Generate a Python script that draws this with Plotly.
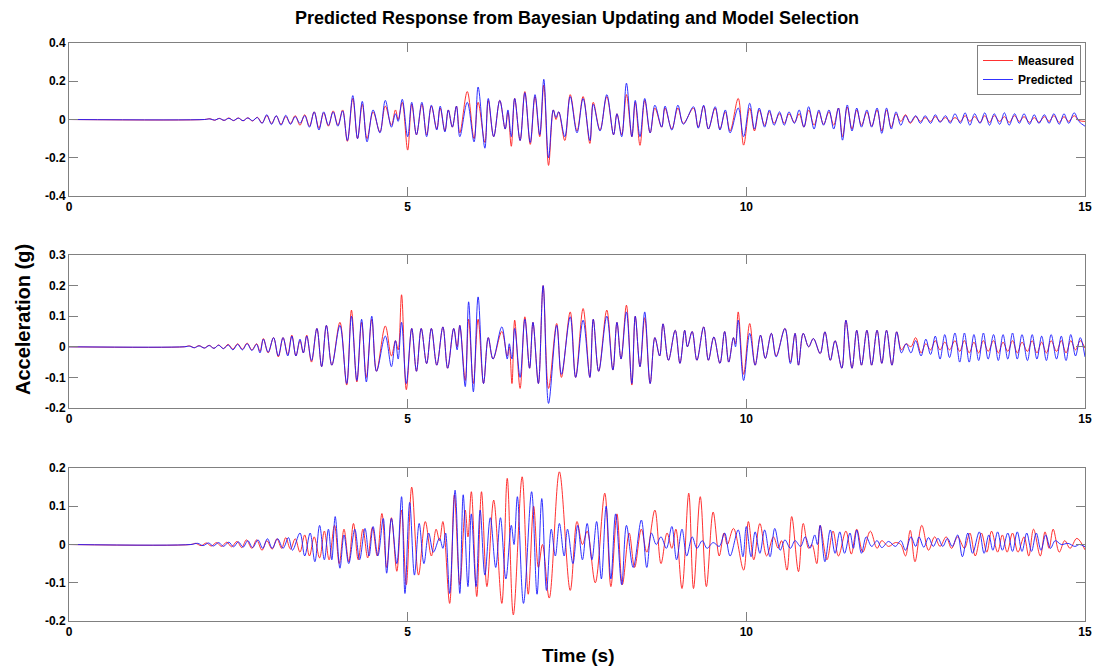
import plotly.graph_objects as go

# ---------------------------------------------------------------------------
# Acceleration records (g) at the turning points of each trace, time in s.
# ---------------------------------------------------------------------------

# Panel 1 – shared time base
top_time = [
    0.00, 2.00, 2.08, 2.15, 2.22, 2.29, 2.36, 2.43, 2.50, 2.57,
    2.64, 2.71, 2.78, 2.85, 2.92, 2.99, 3.06, 3.13, 3.20, 3.27,
    3.34, 3.41, 3.48, 3.55, 3.62, 3.69, 3.76, 3.83, 3.90, 3.97,
    4.04, 4.11, 4.19, 4.26, 4.33, 4.40, 4.49, 4.59, 4.67, 4.76,
    4.82, 4.86, 4.92, 5.00, 5.06, 5.13, 5.21, 5.28, 5.35, 5.43,
    5.48, 5.55, 5.60, 5.66, 5.72, 5.77, 5.88, 5.98, 6.04, 6.14,
    6.19, 6.27, 6.36, 6.44, 6.48, 6.53, 6.58, 6.66, 6.73, 6.81,
    6.88, 6.95, 7.01, 7.08, 7.15, 7.19, 7.23, 7.32, 7.40, 7.50,
    7.59, 7.69, 7.74, 7.84, 7.94, 8.04, 8.09, 8.16, 8.23, 8.31,
    8.36, 8.43, 8.50, 8.58, 8.65, 8.75, 8.80, 8.90, 8.99, 9.07,
    9.22, 9.29, 9.37, 9.44, 9.54, 9.61, 9.69, 9.76, 9.88, 9.96,
    10.05, 10.12, 10.19, 10.27, 10.34, 10.41, 10.49, 10.56, 10.63, 10.71,
    10.78, 10.85, 10.92, 11.00, 11.07, 11.14, 11.22, 11.29, 11.36, 11.42,
    11.49, 11.56, 11.63, 11.70, 11.78, 11.85, 11.93, 12.00, 12.07, 12.14,
    12.21, 12.28, 12.35, 12.42, 12.50, 12.57, 12.64, 12.72, 12.79, 12.86,
    12.94, 13.01, 13.08, 13.16, 13.23, 13.30, 13.37, 13.45, 13.52, 13.59,
    13.66, 13.74, 13.81, 13.88, 13.96, 14.03, 14.10, 14.18, 14.25, 14.32,
    14.40, 14.47, 14.54, 14.62, 14.69, 14.76, 14.84, 14.91, 15.00,
]
top_measured = [
    0, 0, .004, -.004, .006, -.005, .008, -.006, .008, -.007,
    .009, -.008, .012, -.018, .020, -.020, .018, -.025, .015, -.020,
    .020, -.030, .025, -.035, .040, -.045, .035, -.035, .045, -.030,
    .050, -.114, .110, -.100, .080, -.100, .040, -.065, .070, -.030,
    .050, .000, .090, -.160, .080, -.080, .080, -.080, .070, -.050,
    .060, -.060, .050, -.040, .070, -.070, .146, -.100, .090, -.120,
    .100, -.090, .100, -.050, .040, -.140, .110, -.110, .146, -.130,
    .120, -.090, .180, -.240, .050, .000, .040, -.110, .130, -.060,
    .120, -.125, .090, -.055, .120, -.080, .030, -.080, .130, -.090,
    .090, -.135, .100, -.070, .060, -.040, .060, -.050, .060, -.020,
    .060, -.040, .070, -.050, .060, -.050, .040, -.060, .110, -.134,
    .060, -.060, .050, -.030, .040, -.020, .030, -.020, .030, -.015,
    .030, -.040, .050, -.030, .040, -.025, .040, -.030, .060, -.090,
    .065, -.050, .050, -.030, .040, -.035, .050, -.060, .050, -.040,
    .030, -.010, .025, -.020, .015, -.010, .010, -.010, .015, -.010,
    .010, -.010, .010, -.010, .020, -.010, .015, -.015, .020, -.015,
    .020, -.010, .015, -.015, .020, -.010, .015, -.015, .010, -.015,
    .015, -.010, .020, -.015, .015, -.010, .020, -.005, -.010,
]
top_predicted = [
    0, 0, .003, -.003, .005, -.004, .006, -.005, .007, -.006,
    .008, -.006, .010, -.020, .025, -.025, .020, -.030, .022, -.025,
    .015, -.020, .020, -.040, .040, -.055, .040, -.030, .040, -.035,
    .045, -.110, .125, -.100, .095, -.117, .050, -.070, .100, -.040,
    .030, -.010, .106, -.090, .090, -.080, .090, -.090, .075, -.055,
    .070, -.065, .050, -.040, .070, -.090, .090, -.117, .170, -.150,
    .110, -.090, .100, -.050, .050, -.090, .110, -.110, .140, -.120,
    .130, -.080, .210, -.200, .050, .010, .040, -.090, .120, -.070,
    .110, -.110, .080, -.060, .130, -.080, .030, -.090, .190, -.090,
    .100, -.090, .110, -.070, .075, -.040, .070, -.055, .075, -.025,
    .067, -.045, .075, -.050, .067, -.055, .050, -.070, .060, -.090,
    .085, -.050, .060, -.040, .050, -.030, .040, -.030, .040, -.020,
    .050, -.040, .067, -.050, .050, -.030, .050, -.050, .060, -.108,
    .076, -.060, .060, -.040, .050, -.040, .060, -.073, .060, -.050,
    .040, -.030, .020, -.015, .020, -.020, .020, -.020, .025, -.015,
    .020, -.020, .030, -.020, .035, -.030, .030, -.020, .035, -.030,
    .030, -.025, .035, -.030, .030, -.020, .030, -.025, .025, -.020,
    .025, -.020, .030, -.025, .030, -.020, .035, -.010, -.035,
]

# Panel 2 – shared time base
mid_time = [
    0.00, 1.70, 1.78, 1.85, 1.92, 2.00, 2.07, 2.14, 2.21, 2.28,
    2.35, 2.42, 2.49, 2.56, 2.63, 2.70, 2.77, 2.82, 2.87, 2.94,
    3.02, 3.09, 3.16, 3.23, 3.29, 3.35, 3.41, 3.46, 3.51, 3.58,
    3.66, 3.73, 3.80, 3.88, 4.00, 4.10, 4.17, 4.25, 4.32, 4.39,
    4.47, 4.54, 4.67, 4.76, 4.82, 4.86, 4.91, 4.98, 5.06, 5.13,
    5.20, 5.28, 5.35, 5.43, 5.52, 5.59, 5.68, 5.73, 5.77, 5.85,
    5.90, 5.97, 6.04, 6.12, 6.19, 6.26, 6.39, 6.47, 6.50, 6.54,
    6.58, 6.66, 6.73, 6.80, 6.85, 6.93, 7.00, 7.08, 7.20, 7.27,
    7.40, 7.48, 7.59, 7.69, 7.74, 7.82, 7.94, 8.03, 8.09, 8.15,
    8.23, 8.31, 8.36, 8.43, 8.50, 8.58, 8.65, 8.72, 8.77, 8.85,
    8.95, 9.02, 9.09, 9.13, 9.20, 9.27, 9.37, 9.44, 9.52, 9.61,
    9.68, 9.74, 9.81, 9.84, 9.88, 9.96, 10.05, 10.13, 10.21, 10.28,
    10.37, 10.44, 10.57, 10.65, 10.72, 10.77, 10.84, 10.92, 10.99, 11.09,
    11.16, 11.24, 11.31, 11.41, 11.47, 11.56, 11.63, 11.70, 11.78, 11.85,
    11.93, 12.00, 12.07, 12.15, 12.22, 12.29, 12.36, 12.43, 12.50, 12.58,
    12.65, 12.72, 12.79, 12.86, 12.93, 13.00, 13.08, 13.15, 13.22, 13.29,
    13.36, 13.43, 13.50, 13.57, 13.65, 13.72, 13.79, 13.86, 13.93, 14.00,
    14.07, 14.15, 14.22, 14.29, 14.36, 14.43, 14.50, 14.58, 14.65, 14.72,
    14.79, 14.86, 14.93, 15.00,
]
mid_measured = [
    0, 0, .003, -.003, .004, -.004, .005, -.005, .006, -.006,
    .008, -.008, .010, -.008, .012, -.010, .010, -.015, .027, -.020,
    .030, -.033, .030, -.025, .038, -.030, .020, -.020, .038, -.050,
    .060, -.065, .070, -.060, .080, -.125, .120, -.115, .080, -.100,
    .090, -.080, .068, -.030, .020, -.010, .170, -.140, .060, -.080,
    .060, -.055, .060, -.060, .065, -.070, .060, .000, .070, -.110,
    .090, -.120, .090, -.120, .030, -.040, .050, -.030, .000, -.120,
    .087, -.136, .098, -.070, .080, -.120, .200, -.136, .076, -.100,
    .114, -.100, .125, -.100, .090, -.080, .120, -.076, .080, -.040,
    .136, -.125, .100, -.065, .095, -.120, .030, -.030, .075, -.044,
    .054, -.054, .054, .000, .050, -.044, .065, -.044, .032, -.054,
    .050, -.050, .030, .010, .114, -.090, .076, -.060, .038, -.038,
    .044, -.030, .060, -.050, .044, -.060, .044, .000, .027, -.022,
    .049, -.044, .020, -.070, .087, -.070, .054, -.060, .054, -.060,
    .054, -.054, .054, -.060, .049, -.010, .010, .000, .030, -.020,
    .010, -.010, .020, -.010, .015, -.010, .020, -.015, .020, -.020,
    .015, -.020, .020, -.015, .020, -.020, .015, -.015, .020, -.020,
    .015, -.015, .020, -.020, .015, -.020, .020, -.015, .020, -.020,
    .020, -.010, .020, -.005,
]
mid_predicted = [
    0, 0, .002, -.003, .003, -.004, .004, -.005, .005, -.006,
    .006, -.010, .008, -.010, .010, -.012, .008, -.020, .025, -.018,
    .030, -.030, .030, -.030, .035, -.030, .025, -.020, .035, -.045,
    .060, -.065, .070, -.060, .070, -.120, .100, -.110, .090, -.115,
    .100, -.080, .035, -.065, .020, -.040, .080, -.120, .060, -.080,
    .060, -.055, .060, -.060, .065, -.070, .060, -.010, .070, -.130,
    .147, -.147, .163, -.120, .030, -.040, .065, -.040, .010, -.040,
    .060, -.100, .090, -.070, .080, -.120, .200, -.185, .070, -.090,
    .098, -.100, .087, -.100, .090, -.080, .100, -.076, .080, -.040,
    .114, -.120, .100, -.065, .114, -.120, .030, -.030, .075, -.044,
    .054, -.054, .054, .000, .050, -.044, .065, -.044, .032, -.054,
    .050, -.050, .030, .000, .087, -.110, .044, -.060, .038, -.038,
    .044, -.033, .060, -.055, .044, -.060, .044, .000, .027, -.022,
    .049, -.044, .020, -.070, .087, -.070, .054, -.060, .054, -.060,
    .054, -.054, .054, -.060, .049, -.020, .010, -.020, .020, -.030,
    .025, -.025, .035, -.040, .040, -.035, .045, -.050, .045, -.050,
    .040, -.045, .045, -.040, .040, -.045, .040, -.040, .045, -.040,
    .040, -.045, .040, -.040, .035, -.045, .040, -.040, .035, -.045,
    .040, -.030, .030, -.033,
]

# Panel 3 – measured and predicted drift out of phase, so each has its own time base
bot_measured_time = [
    0.00, 1.80, 1.87, 1.95, 2.03, 2.10, 2.18, 2.25, 2.33, 2.40,
    2.48, 2.55, 2.62, 2.70, 2.77, 2.85, 2.92, 3.00, 3.07, 3.14,
    3.20, 3.27, 3.34, 3.41, 3.48, 3.55, 3.62, 3.70, 3.77, 3.84,
    3.92, 3.99, 4.06, 4.13, 4.20, 4.27, 4.34, 4.41, 4.48, 4.55,
    4.62, 4.69, 4.76, 4.84, 4.91, 4.98, 5.06, 5.16, 5.26, 5.35,
    5.42, 5.47, 5.52, 5.62, 5.69, 5.77, 5.85, 5.89, 5.94, 6.02,
    6.09, 6.17, 6.27, 6.39, 6.47, 6.56, 6.69, 6.78, 6.86, 6.93,
    6.99, 7.09, 7.24, 7.40, 7.50, 7.58, 7.65, 7.77, 7.91, 8.00,
    8.09, 8.17, 8.27, 8.35, 8.45, 8.53, 8.65, 8.74, 8.83, 8.90,
    8.96, 9.05, 9.15, 9.22, 9.32, 9.41, 9.51, 9.60, 9.67, 9.72,
    9.81, 9.96, 10.03, 10.11, 10.20, 10.30, 10.40, 10.47, 10.52, 10.60,
    10.67, 10.77, 10.84, 10.92, 10.97, 11.04, 11.09, 11.19, 11.28, 11.36,
    11.47, 11.55, 11.63, 11.72, 11.83, 11.93, 12.00, 12.10, 12.20, 12.28,
    12.35, 12.42, 12.49, 12.59, 12.69, 12.78, 12.86, 12.95, 13.03, 13.12,
    13.22, 13.30, 13.38, 13.47, 13.55, 13.62, 13.71, 13.78, 13.85, 13.93,
    14.01, 14.10, 14.17, 14.24, 14.34, 14.41, 14.47, 14.53, 14.62, 14.70,
    14.78, 14.88, 15.00,
]
bot_measured = [
    0, 0, .003, -.003, .004, -.004, .005, -.005, .006, -.006,
    .008, -.008, .012, -.010, .012, -.015, .010, -.012, .015, -.010,
    .018, -.012, .015, -.020, .025, -.030, .020, -.035, .035, -.040,
    .050, -.050, .040, -.045, .055, -.040, .040, -.035, .045, -.030,
    .081, -.060, .070, -.070, .090, -.105, .150, -.080, .060, -.030,
    .040, .010, .060, -.154, .130, -.105, .090, .020, .138, -.136,
    .138, -.110, .116, -.154, .173, -.184, .177, -.130, .100, -.060,
    .000, -.140, .190, -.120, .060, .000, .035, -.100, .134, -.110,
    .080, -.105, .030, -.060, .040, -.020, .090, -.050, .030, -.010,
    .040, -.115, .134, -.115, .125, -.110, .085, -.030, .030, .000,
    .042, -.067, .060, -.040, .055, -.030, .020, -.010, .010, -.067,
    .073, -.071, .055, -.010, .000, -.050, .050, -.040, .035, -.030,
    .035, -.025, .040, -.020, .035, -.010, .010, -.005, .005, .000,
    -.030, .037, -.045, .050, -.015, .020, -.005, .020, -.010, .020,
    -.010, .030, -.030, .030, -.020, .035, -.020, .025, -.020, .030,
    -.020, .020, -.030, .040, -.030, .033, -.010, .040, -.020, .010,
    -.010, .016, -.014,
]
bot_predicted_time = [
    0.00, 1.80, 1.90, 1.98, 2.06, 2.13, 2.21, 2.28, 2.36, 2.43,
    2.50, 2.57, 2.64, 2.71, 2.79, 2.86, 2.93, 3.00, 3.08, 3.16,
    3.24, 3.30, 3.41, 3.48, 3.56, 3.63, 3.70, 3.77, 3.83, 3.88,
    3.93, 4.00, 4.06, 4.13, 4.22, 4.29, 4.37, 4.43, 4.49, 4.56,
    4.64, 4.69, 4.76, 4.84, 4.91, 4.96, 5.03, 5.10, 5.17, 5.24,
    5.31, 5.38, 5.47, 5.52, 5.56, 5.62, 5.70, 5.77, 5.82, 5.89,
    5.94, 6.01, 6.07, 6.14, 6.22, 6.30, 6.37, 6.45, 6.53, 6.57,
    6.62, 6.71, 6.83, 6.91, 6.98, 7.05, 7.12, 7.18, 7.24, 7.31,
    7.36, 7.44, 7.51, 7.58, 7.65, 7.72, 7.79, 7.86, 7.93, 8.00,
    8.07, 8.16, 8.23, 8.33, 8.45, 8.53, 8.60, 8.67, 8.74, 8.82,
    8.90, 8.97, 9.05, 9.12, 9.20, 9.27, 9.35, 9.42, 9.51, 9.60,
    9.68, 9.76, 9.88, 9.95, 10.00, 10.07, 10.13, 10.20, 10.27, 10.35,
    10.42, 10.50, 10.57, 10.65, 10.72, 10.80, 10.87, 10.94, 11.01, 11.05,
    11.09, 11.16, 11.24, 11.31, 11.38, 11.45, 11.53, 11.58, 11.63, 11.70,
    11.77, 11.85, 11.93, 12.00, 12.10, 12.20, 12.28, 12.35, 12.43, 12.50,
    12.55, 12.62, 12.69, 12.76, 12.83, 12.90, 12.97, 13.04, 13.12, 13.19,
    13.27, 13.34, 13.44, 13.51, 13.58, 13.64, 13.71, 13.78, 13.86, 13.93,
    14.00, 14.07, 14.14, 14.21, 14.28, 14.35, 14.42, 14.49, 14.56, 14.65,
    14.75, 14.85, 14.92, 15.00,
]
bot_predicted = [
    0, 0, .003, -.003, .004, -.004, .005, -.005, .006, -.006,
    .007, -.007, .010, -.008, .012, -.010, .015, -.010, .015, -.010,
    .018, -.015, .030, -.030, .030, -.045, .050, -.040, .040, -.040,
    .073, -.062, .025, -.050, .040, -.040, .042, -.030, .047, -.030,
    .068, -.075, .068, -.050, .125, -.128, .110, -.080, .055, -.050,
    .030, -.020, .016, -.010, .030, -.128, .142, -.128, .130, -.110,
    .080, -.110, .090, -.080, .070, -.060, .070, -.090, .050, .000,
    .125, -.154, .138, -.130, .120, -.120, .040, -.030, .055, -.030,
    .040, -.050, .050, -.040, .055, -.040, .060, -.090, .100, -.090,
    .080, -.105, .050, -.060, .064, -.060, .030, .000, .020, -.010,
    .047, -.040, .040, -.030, .020, -.010, .010, -.010, .005, -.005,
    .030, -.030, .038, -.032, .047, -.032, .033, -.023, .038, -.032,
    .042, -.015, .012, -.010, .010, -.005, .020, -.010, .025, .000,
    .050, -.045, .038, -.023, .033, -.023, .030, -.010, .038, -.023,
    .020, -.005, .010, -.008, .008, -.005, .010, -.015, .020, -.005,
    .020, -.007, .018, -.005, .016, -.005, .016, -.005, .025, -.032,
    .030, -.023, .033, -.023, .025, -.015, .033, -.015, .030, -.018,
    .033, -.018, .030, -.018, .030, -.015, .025, -.010, .010, .000,
    .003, -.005, .000, -.006,
]

# Axis ticks
x_ticks = [0, 5, 10, 15]
x_tick_labels = ["0", "5", "10", "15"]
top_y_ticks = [-0.4, -0.2, 0, 0.2, 0.4]
top_y_labels = ["-0.4", "-0.2", "0", "0.2", "0.4"]
mid_y_ticks = [-0.2, -0.1, 0, 0.1, 0.2, 0.3]
mid_y_labels = ["-0.2", "-0.1", "0", "0.1", "0.2", "0.3"]
bot_y_ticks = [-0.2, -0.1, 0, 0.1, 0.2]
bot_y_labels = ["-0.2", "-0.1", "0", "0.1", "0.2"]

# ---------------------------------------------------------------------------
W, H = 1094, 667
FONT = "Liberation Sans, Arial, Helvetica, sans-serif"
RED = "#ff1a1a"
BLUE = "#1a1aff"
FRAME = "#808080"

panels = [
    dict(t_m=top_time, m=top_measured, t_p=top_time, p=top_predicted,
         top=43, bottom=196, rng=[-0.4, 0.4], yt=top_y_ticks, yl=top_y_labels),
    dict(t_m=mid_time, m=mid_measured, t_p=mid_time, p=mid_predicted,
         top=255, bottom=408, rng=[-0.2, 0.3], yt=mid_y_ticks, yl=mid_y_labels),
    dict(t_m=bot_measured_time, m=bot_measured, t_p=bot_predicted_time, p=bot_predicted,
         top=468, bottom=621, rng=[-0.2, 0.2], yt=bot_y_ticks, yl=bot_y_labels),
]

fig = go.Figure()
layout = {}
tick_font = dict(family=FONT, size=12, color="black", weight="bold")

for i, pnl in enumerate(panels):
    n = "" if i == 0 else str(i + 1)
    xa, ya = "x" + n, "y" + n
    fig.add_trace(go.Scatter(
        x=pnl["t_m"], y=pnl["m"], xaxis=xa, yaxis=ya, mode="lines",
        name="Measured", showlegend=(i == 0), legendrank=1,
        line=dict(color=RED, width=0.9, shape="spline", smoothing=1.0),
    ))
    fig.add_trace(go.Scatter(
        x=pnl["t_p"], y=pnl["p"], xaxis=xa, yaxis=ya, mode="lines",
        name="Predicted", showlegend=(i == 0), legendrank=2,
        line=dict(color=BLUE, width=0.9, shape="spline", smoothing=1.0),
    ))
    layout["xaxis" + n] = dict(
        domain=[69 / W, 1085 / W], range=[0, 15], anchor=ya, automargin=False,
        tickmode="array", tickvals=x_ticks, ticktext=x_tick_labels,
        ticks="inside", ticklen=9, tickcolor=FRAME, tickwidth=1,
        showline=True, linecolor=FRAME, linewidth=1, mirror="ticks",
        showgrid=False, zeroline=False, tickfont=tick_font,
    )
    layout["yaxis" + n] = dict(
        domain=[1 - pnl["bottom"] / H, 1 - pnl["top"] / H], range=pnl["rng"],
        anchor=xa, automargin=False,
        tickmode="array", tickvals=pnl["yt"], ticktext=pnl["yl"],
        ticks="inside", ticklen=9, tickcolor=FRAME, tickwidth=1,
        showline=True, linecolor=FRAME, linewidth=1, mirror="ticks",
        showgrid=False, zeroline=False, tickfont=tick_font,
    )

fig.update_layout(
    width=W, height=H,
    margin=dict(l=0, r=0, t=0, b=0, autoexpand=False),
    paper_bgcolor="white", plot_bgcolor="white",
    showlegend=True,
    legend=dict(
        x=1081 / W, y=1 - 45 / H, xanchor="right", yanchor="top",
        bgcolor="white", bordercolor=FRAME, borderwidth=1,
        font=dict(family=FONT, size=12, color="black", weight="bold"),
        tracegroupgap=0, itemwidth=30,
    ),
    annotations=[
        dict(text="Predicted Response from Bayesian Updating and Model Selection",
             x=577 / W, y=1 - 18 / H, xref="paper", yref="paper",
             xanchor="center", yanchor="middle", showarrow=False,
             font=dict(family=FONT, size=18, color="black", weight="bold")),
        dict(text="Acceleration (g)",
             x=23 / W, y=1 - 320 / H, xref="paper", yref="paper",
             xanchor="center", yanchor="middle", showarrow=False, textangle=-90,
             font=dict(family=FONT, size=20, color="black", weight="bold")),
        dict(text="Time (s)",
             x=578 / W, y=1 - 655 / H, xref="paper", yref="paper",
             xanchor="center", yanchor="middle", showarrow=False,
             font=dict(family=FONT, size=19, color="black", weight="bold")),
    ],
    **layout,
)

fig.write_html("out.html")
